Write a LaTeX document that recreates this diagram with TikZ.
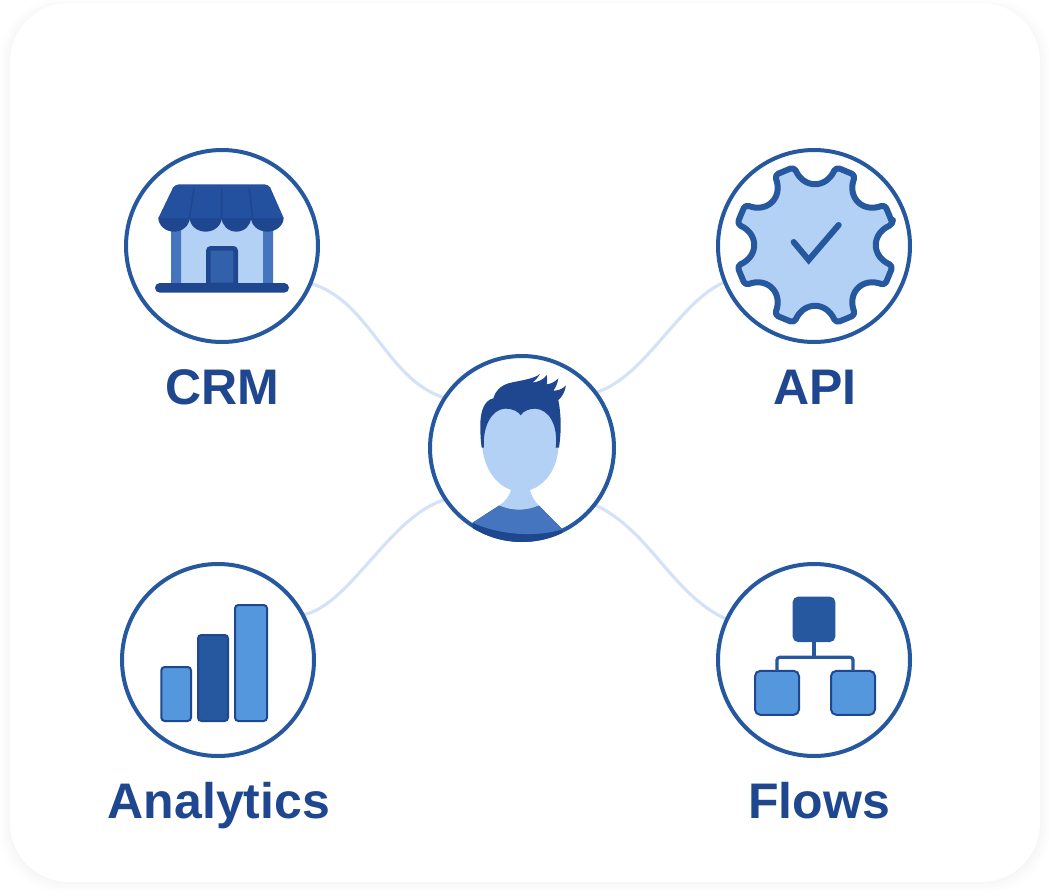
\documentclass[tikz,border=0pt]{standalone}
\usepackage{fontspec}
\setmainfont{Liberation Sans}
\pgfdeclarelayer{cardlayer}
\pgfdeclarelayer{linklayer}
\pgfsetlayers{cardlayer,linklayer,main}
\definecolor{ringblue}{HTML}{25589F}
\definecolor{deepblue}{HTML}{1F478F}
\definecolor{roofblue}{HTML}{23509F}
\definecolor{paleblue}{HTML}{B3D1F4}
\definecolor{midblue}{HTML}{4675BF}
\definecolor{doorblue}{HTML}{3360AA}
\definecolor{barblue}{HTML}{5597DC}
\definecolor{linkblue}{HTML}{D3E2F8}
\definecolor{softgrey}{HTML}{F5F5F6}
\tikzset{
  ring/.style={circle,draw=ringblue,line width=3pt,fill=white,inner sep=0pt,outer sep=0pt,minimum size=#1},
  link/.style={draw=linkblue,line width=2.3pt},
  caption/.style={anchor=base,inner sep=0pt,text=deepblue,font=\fontsize{37.5pt}{40pt}\selectfont\bfseries},
  zoomed/.style={x=.25pt,y=-.25pt},
  flowbox/.style={rectangle,rounded corners=4pt,inner sep=0pt,outer sep=0pt},
  barbox/.style={draw=deepblue,line width=1.5pt,rounded corners=2.5pt}
}
\begin{document}
\begin{tikzpicture}[x=.75pt,y=-.75pt]
\useasboundingbox (0,0) rectangle (1054,896);
\node[ring=144pt] (crm) at (222,246) {};
\node[ring=144pt] (api) at (814,246) {};
\node[ring=144pt] (ana) at (218,660) {};
\node[ring=144pt] (flo) at (814,660) {};
\node[ring=138pt] (usr) at (522,448) {};
\begin{pgfonlayer}{cardlayer}
  \fill[white] (0,0) rectangle (1054,896);
  \foreach \g/\o in {9/.2,6/.25,3/.35,1/.4}{
    \fill[softgrey,opacity=\o,rounded corners=44pt] (10-\g,8-\g) rectangle (1040+\g,882+\g);
  }
  \fill[white,rounded corners=44pt] (10,3) rectangle (1040,882);
\end{pgfonlayer}
\begin{pgfonlayer}{linklayer}
  \draw[link] (crm.-23) .. controls (370,300) and (386,380) .. (usr.147);
  \draw[link] (api.202) .. controls (680,300) and (645,378) .. (usr.37);
  \draw[link] (ana.28) .. controls (350,606) and (390,515) .. (usr.214);
  \draw[link] (flo.155) .. controls (672,595) and (650,530) .. (usr.-38);
\end{pgfonlayer}
\node[caption] (lcrm) at (222,404) {CRM};
\node[caption] (lapi) at (815,404) {API};
\node[caption] (lana) at (219,818) {Analytics};
\node[caption] (lflo) at (819,818) {Flows};
% store
\begin{scope}[shift={(120,145)},zoomed]
  \fill[paleblue] (153,215) rectangle (459,420);
  \fill[midblue] (153,215) rectangle (183,420) (429,215) rectangle (459,420);
  \fill[doorblue,draw=deepblue,line width=3.5pt,rounded corners=2pt] (265,310) rectangle (347,420);
  \fill[deepblue,rounded corners=3.6pt] (105,414) rectangle (507,443);
  \fill[deepblue] (115,218) arc[start angle=180,end angle=0,x radius=47,y radius=42]
     arc[start angle=180,end angle=0,x radius=48,y radius=42]
     arc[start angle=180,end angle=0,x radius=44,y radius=42]
     arc[start angle=180,end angle=0,x radius=49,y radius=42] -- cycle;
  \fill[roofblue] (115,219) -- (160,126) [rounded corners=3pt] -- (165,118) -- (445,118) [sharp corners] -- (450,126) -- (491,219) -- cycle;
  \draw[deepblue,line width=1.2pt] (222,130) -- (208,220) (305,130) -- (305,220) (388,130) -- (398,220);
\end{scope}
% person
\begin{scope}
  \clip (usr) circle[radius=94];
  \begin{scope}[shift={(425,350)},zoomed]
    \fill[paleblue] (172,295) .. controls (180,360) and (215,405) .. (258,420)
       .. controls (252,440) and (240,455) .. (222,467) .. controls (262,484) and (302,484) .. (342,467)
       .. controls (330,455) and (320,440) .. (315,420) .. controls (360,405) and (395,360) .. (400,295)
       .. controls (405,225) and (380,170) .. (330,170) -- (240,170) .. controls (195,170) and (165,225) .. (172,295) -- cycle;
    \fill[deepblue] (143,518) -- (222,467) .. controls (262,484) and (302,484) .. (342,467) -- (412,538) -- (412,600) -- (143,600) -- cycle;
    \fill[midblue] (143,518) -- (222,467) .. controls (262,484) and (302,484) .. (342,467) -- (412,538) .. controls (335,562) and (225,556) .. (143,518) -- cycle;
    \fill[deepblue] (170,293) -- (177,293) .. controls (172,230) and (200,178) .. (240,176)
       .. controls (265,176) and (280,185) .. (287,196) .. controls (295,182) and (315,176) .. (330,176)
       .. controls (372,178) and (400,225) .. (392,293) -- (402,293)
       .. controls (410,240) and (408,190) .. (400,150) .. controls (412,140) and (420,125) .. (423,106)
       .. controls (412,118) and (398,122) .. (385,122) .. controls (393,112) and (398,98) .. (400,85)
       .. controls (390,95) and (378,102) .. (365,103) .. controls (367,93) and (367,84) .. (365,75)
       .. controls (357,88) and (340,96) .. (322,98) .. controls (332,90) and (340,82) .. (345,72)
       .. controls (325,88) and (280,92) .. (250,100) .. controls (225,108) and (210,125) .. (205,145)
       .. controls (180,150) and (165,180) .. (166,230) .. controls (166,260) and (168,280) .. (170,293) -- cycle;
  \end{scope}
\end{scope}
% gear
\begin{scope}[shift={(815,245)},zoomed]
  \draw[ringblue,fill=paleblue,line width=4.5pt,line join=round,rounded corners=3pt]
    (-15:242)
    \foreach \b in {0,45,...,315}{
      \pgfextra{\pgfmathsetmacro\nx{\b+45-15}\pgfmathsetmacro\c{\b+15}\pgfmathsetmacro\ca{\b-11}\pgfmathsetmacro\cb{\b+11}}
      .. controls (\ca:172) and (\cb:172) .. (\c:242) -- (\nx:242)
    } -- cycle;
  \draw[ringblue,line width=4.5pt,line cap=round,line join=miter] (-64,-9) -- (-19,45) -- (71,-60);
\end{scope}
% flows
\begin{scope}[shift={(712,560)},zoomed]
  \node[flowbox,minimum width=32pt,minimum height=34pt,fill=ringblue] (froot) at (306,178) {};
  \node[flowbox,minimum width=33pt,minimum height=33pt,fill=barblue,draw=deepblue,line width=1.5pt] (fa) at (195,398.5) {};
  \node[flowbox,minimum width=33pt,minimum height=33pt,fill=barblue,draw=deepblue,line width=1.5pt] (fb) at (423,398.5) {};
  \coordinate (fmid) at (306,292);
  \draw[ringblue,line width=2.4pt] (froot.south) -- (fmid);
  \draw[ringblue,line width=2.4pt,rounded corners=2pt] (fa.north) |- (fmid) -| (fb.north);
\end{scope}
% bars
\begin{scope}[shift={(118,560)},zoomed]
  \fill[barblue,barbox] (130,321) rectangle (219,483);
  \fill[ringblue,barbox] (240,225) rectangle (330,483);
  \fill[barblue,barbox] (351,135) rectangle (447,483);
\end{scope}
\end{tikzpicture}
\end{document}
